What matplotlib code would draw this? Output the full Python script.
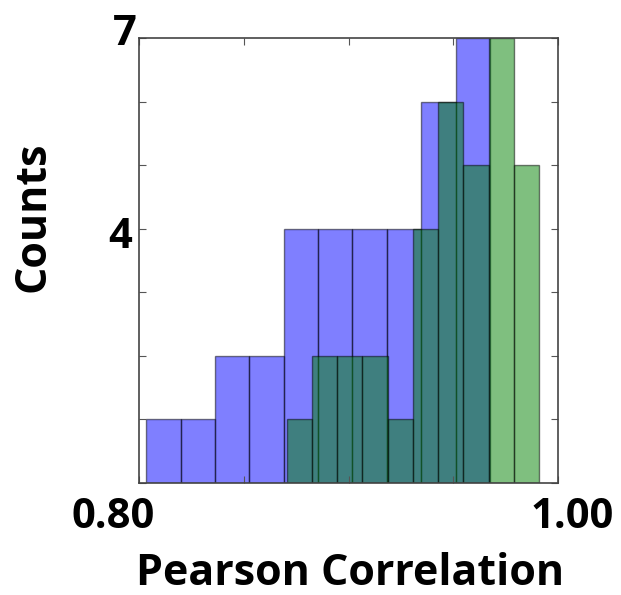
import numpy as np
import matplotlib
matplotlib.use("Agg")
import matplotlib.pyplot as plt

# histogram data
blue_edges = np.linspace(0.8035, 0.9675, 11)
blue_counts = [1, 1, 2, 2, 4, 4, 4, 4, 6, 7]

green_edges = np.linspace(0.8705, 0.9910, 11)
green_counts = [1, 2, 2, 2, 1, 4, 6, 5, 7, 5]

x_ticks = [0.80, 0.85, 0.90, 0.95, 1.00]
x_labels = ["0.80", "1.00"]
y_labels = ["7", "4"]

plt.rcParams['font.family'] = ['Open Sans', 'DejaVu Sans']

fig = plt.figure(figsize=(6.21, 5.95), dpi=100)
ax = fig.add_axes([139 / 621, 1 - 483 / 595, 419 / 621, 445 / 595])

ax.bar(blue_edges[:-1], blue_counts, width=np.diff(blue_edges), align='edge',
       color='blue', alpha=0.5, edgecolor='black', linewidth=1)
ax.bar(green_edges[:-1], green_counts, width=np.diff(green_edges), align='edge',
       color='green', alpha=0.5, edgecolor='black', linewidth=1)

ax.set_xlim(0.80, 1.00)
ax.set_ylim(0, 7)
ax.set_xticks(x_ticks)
ax.set_yticks(range(8))
ax.set_xticklabels([])
ax.set_yticklabels([])
ax.tick_params(direction='in', length=5, width=0.8, color='#555555',
               top=True, right=True)
for s in ax.spines.values():
    s.set_color('#444444')
    s.set_linewidth(1.2)

# big bold end labels, placed like the original
fs_num = 30
fs_lab = 31
ax.text(-0.062, -0.101, x_labels[0], transform=ax.transAxes, ha='center', va='baseline',
        fontsize=fs_num, fontweight='bold')
ax.text(1.033, -0.101, x_labels[1], transform=ax.transAxes, ha='center', va='baseline',
        fontsize=fs_num, fontweight='bold')
ax.text(-0.005, 6.89, y_labels[0], transform=ax.get_yaxis_transform(), ha='right',
        va='baseline', fontsize=fs_num, fontweight='bold')
ax.text(-0.017, 3.70, y_labels[1], transform=ax.get_yaxis_transform(), ha='right',
        va='baseline', fontsize=fs_num, fontweight='bold')

fig.text(350 / 621, 1 - 585 / 595, "Pearson Correlation", ha='center', va='baseline',
         fontsize=fs_lab, fontweight='bold')
fig.text(45 / 621, 1 - 217 / 595, "Counts", ha='center', va='baseline', rotation=90,
         rotation_mode='anchor', fontsize=fs_lab, fontweight='bold')

fig.savefig("out.png", dpi=100)
